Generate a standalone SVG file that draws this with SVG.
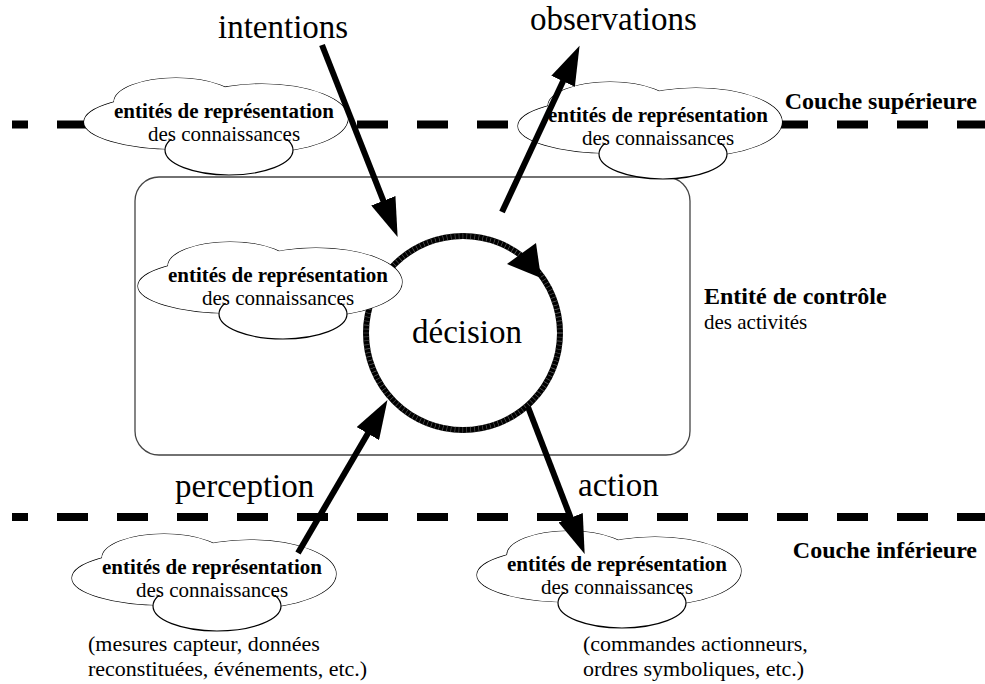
<svg xmlns="http://www.w3.org/2000/svg" width="985" height="684" viewBox="0 0 985 684">
<style>
  .dash{fill:none;stroke:#000;stroke-width:8;stroke-dasharray:31 29;stroke-dashoffset:15}
  .frame{fill:none;stroke:#444;stroke-width:1.3}
  .ring{fill:none;stroke:#000;stroke-width:6}
  .ringtex{fill:none;stroke:#666;stroke-width:6;stroke-dasharray:0.6 3.4}
  .shaft{fill:none;stroke:#000;stroke-width:6;marker-end:url(#head)}
  .big{font-family:"Liberation Serif","Times New Roman",serif;font-size:33px;fill:#000}
  .t{font-family:"Liberation Serif","Times New Roman",serif;font-size:21px;fill:#000}
  .h{font-family:"Liberation Serif","Times New Roman",serif;font-size:24px;font-weight:bold;fill:#000}
  .p{font-family:"Liberation Serif","Times New Roman",serif;font-size:22px;fill:#000}
  .b{font-weight:bold}
  .ol ellipse{fill:none;stroke:#000;stroke-width:1.2}
  .fl ellipse{fill:#fff;stroke:none}
  .lobe{fill:#fff;stroke:#000;stroke-width:1.2}
</style>
<defs>
  <marker id="head" markerUnits="userSpaceOnUse" viewBox="0 0 40 26" markerWidth="40" markerHeight="26" refX="1" refY="13" orient="auto">
    <path d="M0,0 L39,13 L0,26 Z" fill="#000"/>
  </marker>
  <!-- cloud outline: union of three lobes, a front lobe, and a white text backing -->
  <g id="cloudShape">
    <g class="ol">
      <ellipse cx="92" cy="24" rx="62" ry="24"/>
      <ellipse cx="92" cy="44" rx="92" ry="27"/>
      <ellipse cx="178" cy="40" rx="86" ry="34"/>
    </g>
    <g class="fl">
      <ellipse cx="92" cy="24" rx="62" ry="24"/>
      <ellipse cx="92" cy="44" rx="92" ry="27"/>
      <ellipse cx="178" cy="40" rx="86" ry="34"/>
    </g>
    <ellipse class="lobe" cx="145" cy="72" rx="64" ry="25"/>
    <rect x="64" y="44" width="152" height="17" fill="#fff"/>
  </g>
</defs>

<rect width="985" height="684" fill="#fff"/>

<!-- layer boundaries -->
<g id="layers">
  <line class="dash" x1="12" y1="124.5" x2="985" y2="124.5"/>
  <line class="dash" x1="12" y1="517" x2="985" y2="517"/>
</g>

<!-- control entity frame -->
<g id="control-entity">
  <rect class="frame" x="135" y="177" width="555" height="278" rx="24" ry="24"/>
  <text class="h" x="704" y="304" font-size="23">Entité de contrôle</text>
  <text class="t" x="704" y="329">des activités</text>
</g>

<!-- decision loop -->
<g id="decision">
  <circle class="ring" cx="463" cy="333" r="97"/>
  <circle class="ringtex" cx="463" cy="333" r="97"/>
  <polygon points="541,278 507,264 536,243" fill="#000"/>
  <text class="big" x="412" y="343">décision</text>
</g>

<!-- knowledge representation entities -->
<g id="cloud-upper-left" transform="translate(84,78)">
  <use href="#cloudShape"/>
  <text class="t b" x="140" y="40" text-anchor="middle">entités de représentation</text>
  <text class="t" x="140" y="63" text-anchor="middle">des connaissances</text>
</g>
<g id="cloud-upper-right" transform="translate(518,82)">
  <use href="#cloudShape"/>
  <text class="t b" x="140" y="40" text-anchor="middle">entités de représentation</text>
  <text class="t" x="140" y="63" text-anchor="middle">des connaissances</text>
</g>
<g id="cloud-control" transform="translate(138,242)">
  <use href="#cloudShape"/>
  <text class="t b" x="140" y="40" text-anchor="middle">entités de représentation</text>
  <text class="t" x="140" y="63" text-anchor="middle">des connaissances</text>
</g>
<g id="cloud-lower-left" transform="translate(72,534)">
  <use href="#cloudShape"/>
  <text class="t b" x="140" y="40" text-anchor="middle">entités de représentation</text>
  <text class="t" x="140" y="63" text-anchor="middle">des connaissances</text>
</g>
<g id="cloud-lower-right" transform="translate(477,531)">
  <use href="#cloudShape"/>
  <text class="t b" x="140" y="40" text-anchor="middle">entités de représentation</text>
  <text class="t" x="140" y="63" text-anchor="middle">des connaissances</text>
</g>

<!-- flows -->
<g id="connectors">
  <line class="shaft" x1="322" y1="45" x2="383.7" y2="201.7"/>
  <line class="shaft" x1="502" y1="212" x2="563.5" y2="80.3"/>
  <line class="shaft" x1="298" y1="553" x2="368.3" y2="432.7"/>
  <line class="shaft" x1="528" y1="407" x2="571" y2="518.6"/>
</g>

<!-- flow labels -->
<g id="labels">
  <text class="big" x="218" y="38">intentions</text>
  <text class="big" x="530" y="30">observations</text>
  <text class="big" x="175" y="497">perception</text>
  <text class="big" x="578" y="496">action</text>
  <text class="h" x="977" y="109" text-anchor="end">Couche supérieure</text>
  <text class="h" x="977" y="558" text-anchor="end">Couche inférieure</text>
  <text class="p" x="88" y="651">(mesures capteur, données</text>
  <text class="p" x="88" y="676">reconstituées, événements, etc.)</text>
  <text class="p" x="583" y="651">(commandes actionneurs,</text>
  <text class="p" x="583" y="676">ordres symboliques, etc.)</text>
</g>
</svg>
